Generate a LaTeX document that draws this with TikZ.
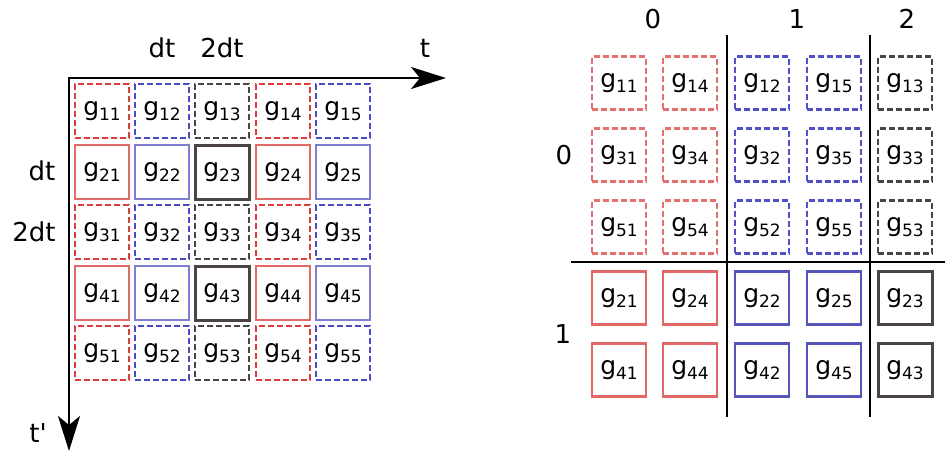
\documentclass[tikz,border=0pt]{standalone}
\usepackage{fontspec}
\setmainfont{DejaVu Sans}
\usetikzlibrary{arrows.meta}
\definecolor{cRedD}{RGB}{220,60,60}
\definecolor{cRedS}{RGB}{226,106,106}
\definecolor{cBlueD}{RGB}{75,75,195}
\definecolor{cBlueS}{RGB}{125,125,210}
\definecolor{cGray}{RGB}{75,68,68}
\definecolor{cRedDr}{RGB}{230,112,112}
\definecolor{cRedSr}{RGB}{226,104,104}
\definecolor{cBlueDr}{RGB}{80,80,200}
\definecolor{cBlueSr}{RGB}{85,85,185}
\newcommand\gsub[1]{g\raisebox{-5pt}{\fontsize{17}{17}\selectfont #1}}
\tikzset{
  gbox/.style={draw, line width=2.4pt, minimum width=54pt, minimum height=54pt, inner sep=0pt, font=\fontsize{25}{30}\selectfont},
  dsh/.style={dash pattern=on 6pt off 3pt},
  lab/.style={anchor=base, inner sep=0pt, font=\fontsize{26}{30}\selectfont},
  axis/.style={line width=2.2pt, -{Stealth[length=35pt,width=22pt,inset=9pt]}},
  sepline/.style={line width=2.2pt},
  LredD/.style={draw=cRedD, dsh}, LredS/.style={draw=cRedS},
  LblueD/.style={draw=cBlueD, dsh}, LblueS/.style={draw=cBlueS},
  LgrayD/.style={draw=cGray, dsh}, LgrayS/.style={draw=cGray, line width=3pt},
  RredD/.style={draw=cRedDr, dsh}, RredS/.style={draw=cRedSr},
  RblueD/.style={draw=cBlueDr, dsh}, RblueS/.style={draw=cBlueSr},
  RgrayD/.style={draw=cGray, dsh}, RgrayS/.style={draw=cGray, line width=3pt},
}
\begin{document}
\begin{tikzpicture}[x=1pt,y=-1pt]
\path[use as bounding box] (0,0) rectangle (945,451);
% left axes
\coordinate (O) at (69,78);
\coordinate (tx) at (446,78);
\coordinate (ty) at (69,451);
\draw[axis] ([xshift=-1.1pt]O) -- (tx);
\draw[axis] (O) -- (ty);
\node[lab] (lt) at (425,57) {t};
\node[lab] (ldt) at (162,57) {dt};
\node[lab] (l2dt) at (222,57) {2dt};
\node[lab] (rdt) at (42,180) {dt};
\node[lab] (r2dt) at (34,241) {2dt};
\node[lab] (ltp) at (38,442) {t\textquotesingle};
% left grid
\foreach \r/\y/\k in {1/111/D,2/172/S,3/232/D,4/293/S,5/353/D}{
  \foreach \c/\x/\col in {1/102/red,2/162/blue,3/222/gray,4/283/red,5/343/blue}{
    \node[gbox, L\col\k] (L\r\c) at (\x,\y) {\gsub{\r\c}};
  }
}
% right grid
\foreach \r/\y/\k in {1/83/D,3/155/D,5/227/D,2/298/S,4/370/S}{
  \foreach \c/\x/\col in {1/619/red,4/690/red,2/762/blue,5/834/blue,3/905/gray}{
    \node[gbox, minimum height=53pt, R\col\k] (R\r\c) at (\x,\y) {\gsub{\r\c}};
  }
}
\draw[sepline] (727,35) -- (727,417);
\draw[sepline] (870,35) -- (870,417);
\draw[sepline] (571,262) -- (945,262);
\node[lab] (c0) at (653,28) {0};
\node[lab] (c1) at (797,28) {1};
\node[lab] (c2) at (907,28) {2};
\node[lab] (r0) at (564,164) {0};
\node[lab] (r1) at (563,343) {1};
\end{tikzpicture}
\end{document}
